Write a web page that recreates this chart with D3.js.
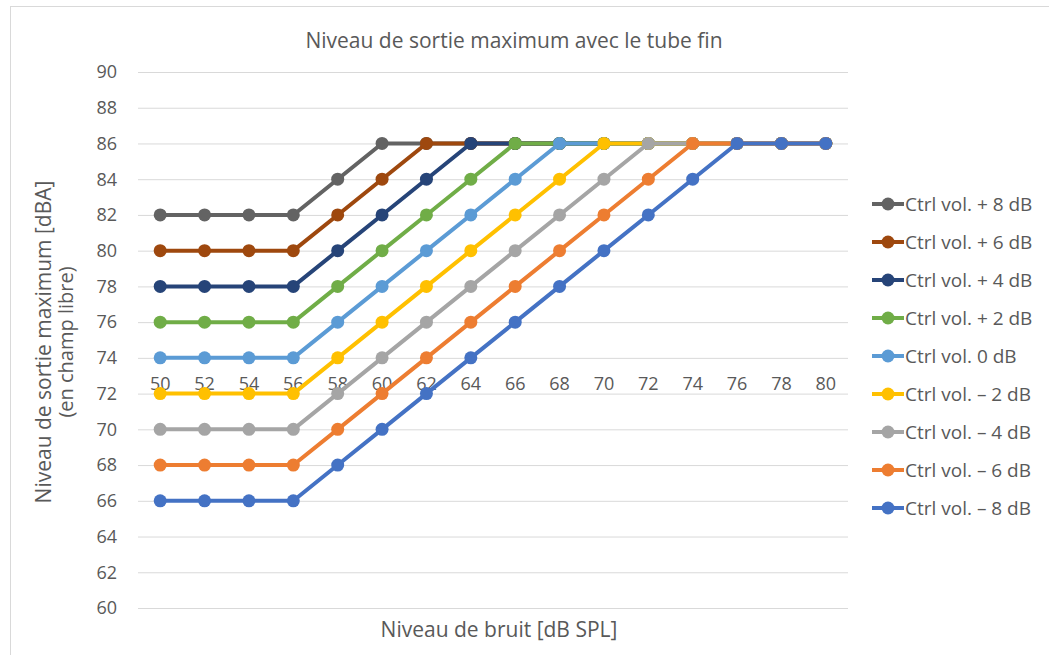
<!DOCTYPE html>
<html>
<head>
<meta charset="utf-8">
<script src="https://cdn.jsdelivr.net/npm/d3@7"></script>
<style>
  body { margin: 0; background: #fff; }
  text { font-family: "Open Sans", "Noto Sans", sans-serif; fill: #595959; }
</style>
</head>
<body>
<svg id="svg"></svg>
<script>
// Noise levels on the x axis
const noiseLevels = [50, 52, 54, 56, 58, 60, 62, 64, 66, 68, 70, 72, 74, 76, 78, 80];
const yTicks = [60, 62, 64, 66, 68, 70, 72, 74, 76, 78, 80, 82, 84, 86, 88, 90];

// One list of values per volume setting
const seriesNames = ["Ctrl vol. + 8 dB", "Ctrl vol. + 6 dB", "Ctrl vol. + 4 dB", "Ctrl vol. + 2 dB",
  "Ctrl vol. 0 dB", "Ctrl vol. – 2 dB", "Ctrl vol. – 4 dB", "Ctrl vol. – 6 dB", "Ctrl vol. – 8 dB"];
const plus8  = [82, 82, 82, 82, 84, 86, 86, 86, 86, 86, 86, 86, 86, 86, 86, 86];
const plus6  = [80, 80, 80, 80, 82, 84, 86, 86, 86, 86, 86, 86, 86, 86, 86, 86];
const plus4  = [78, 78, 78, 78, 80, 82, 84, 86, 86, 86, 86, 86, 86, 86, 86, 86];
const plus2  = [76, 76, 76, 76, 78, 80, 82, 84, 86, 86, 86, 86, 86, 86, 86, 86];
const zero   = [74, 74, 74, 74, 76, 78, 80, 82, 84, 86, 86, 86, 86, 86, 86, 86];
const minus2 = [72, 72, 72, 72, 74, 76, 78, 80, 82, 84, 86, 86, 86, 86, 86, 86];
const minus4 = [70, 70, 70, 70, 72, 74, 76, 78, 80, 82, 84, 86, 86, 86, 86, 86];
const minus6 = [68, 68, 68, 68, 70, 72, 74, 76, 78, 80, 82, 84, 86, 86, 86, 86];
const minus8 = [66, 66, 66, 66, 68, 70, 72, 74, 76, 78, 80, 82, 84, 86, 86, 86];
const seriesColors = ["#636363", "#9E480E", "#264478", "#70AD47", "#5B9BD5",
  "#FFC000", "#A5A5A5", "#ED7D31", "#4472C4"];

const allValues = [plus8, plus6, plus4, plus2, zero, minus2, minus4, minus6, minus8];
const series = seriesNames.map((name, i) => ({ name, color: seriesColors[i], values: allValues[i] }));

const width = 1049, height = 655;
const svg = d3.select("#svg").attr("width", width).attr("height", height);

// chart area border
svg.append("rect")
  .attr("x", 10.5).attr("y", 6.5)
  .attr("width", 1060).attr("height", 660)
  .attr("fill", "#fff").attr("stroke", "#D9D9D9");

const plotLeft = 138, plotRight = 848, plotTop = 72, plotBottom = 608;

const x = d3.scaleBand().domain(noiseLevels).range([plotLeft, plotRight]);
const y = d3.scaleLinear().domain([60, 90]).range([plotBottom, plotTop]);

// gridlines
svg.append("g")
  .selectAll("line")
  .data(yTicks)
  .enter()
  .append("line")
  .attr("x1", plotLeft).attr("x2", plotRight)
  .attr("y1", d => y(d) + 0.5).attr("y2", d => y(d) + 0.5)
  .attr("stroke", "#D9D9D9").attr("stroke-width", 1);

// y tick labels
svg.append("g")
  .selectAll("text")
  .data(yTicks)
  .enter()
  .append("text")
  .attr("x", 117)
  .attr("y", d => y(d))
  .attr("dy", "0.35em")
  .attr("text-anchor", "end")
  .attr("font-size", 18)
  .text(d => d);

// x tick labels (axis crosses inside the plot)
svg.append("g")
  .selectAll("text")
  .data(noiseLevels)
  .enter()
  .append("text")
  .attr("x", d => x(d) + x.bandwidth() / 2)
  .attr("y", 384)
  .attr("dy", "0.35em")
  .attr("text-anchor", "middle")
  .attr("font-size", 18)
  .text(d => d);

const line = d3.line()
  .x((d, i) => x(noiseLevels[i]) + x.bandwidth() / 2)
  .y(d => y(d));

// lines and markers
series.forEach(s => {
  const g = svg.append("g");
  g.append("path")
    .attr("d", line(s.values))
    .attr("fill", "none")
    .attr("stroke", s.color)
    .attr("stroke-width", 4)
    .attr("stroke-linejoin", "round");
  g.selectAll("circle")
    .data(s.values)
    .enter()
    .append("circle")
    .attr("cx", (d, i) => x(noiseLevels[i]) + x.bandwidth() / 2)
    .attr("cy", d => y(d))
    .attr("r", 6.5)
    .attr("fill", s.color);
});

// title
svg.append("text")
  .attr("x", 514).attr("y", 41)
  .attr("dy", "0.35em")
  .attr("text-anchor", "middle")
  .attr("font-size", 21)
  .text("Niveau de sortie maximum avec le tube fin");

// x axis title
svg.append("text")
  .attr("x", 499).attr("y", 630)
  .attr("dy", "0.35em")
  .attr("text-anchor", "middle")
  .attr("font-size", 21)
  .text("Niveau de bruit [dB SPL]");

// y axis title, two lines
const yTitle = svg.append("text")
  .attr("transform", "translate(44, 342) rotate(-90)")
  .attr("text-anchor", "middle")
  .attr("font-size", 21);
yTitle.append("tspan").attr("x", 0).attr("dy", "0.35em").text("Niveau de sortie maximum [dBA]");
yTitle.append("tspan").attr("x", 0).attr("dy", "1.1em").attr("font-size", 20).text("(en champ libre)");

// legend
const legend = svg.append("g").attr("transform", "translate(872, 204)");
series.forEach((s, i) => {
  const row = legend.append("g").attr("transform", `translate(0, ${i * 38})`);
  row.append("line")
    .attr("x1", 0).attr("x2", 32)
    .attr("stroke", s.color).attr("stroke-width", 4);
  row.append("circle").attr("cx", 16).attr("r", 6.5).attr("fill", s.color);
  row.append("text")
    .attr("x", 33)
    .attr("dy", "0.35em")
    .attr("font-size", 19)
    .text(s.name);
});
</script>
</body>
</html>
